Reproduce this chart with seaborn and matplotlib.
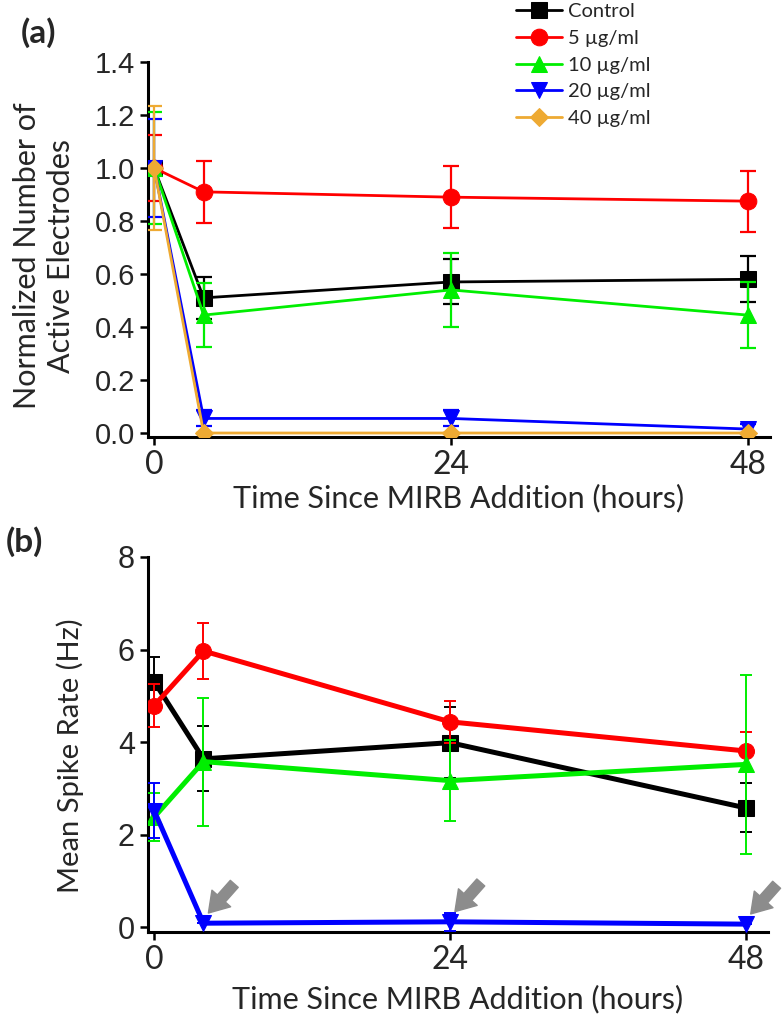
import matplotlib.pyplot as plt
import seaborn as sns

hours = [0, 4, 24, 48]
groups = ["Control", "5 µg/ml", "10 µg/ml", "20 µg/ml", "40 µg/ml"]
colors = ["#000000", "#ff0000", "#00ee00", "#0000ff", "#eeaa33"]
markers = ["s", "o", "^", "v", "D"]

# (a) normalized number of active electrodes
active = [
    [1.0, 0.51, 0.57, 0.58],
    [1.0, 0.91, 0.89, 0.875],
    [1.0, 0.445, 0.54, 0.445],
    [1.0, 0.055, 0.055, 0.015],
    [1.0, 0.0, 0.0, 0.0],
]
active_err = [
    [0.0, 0.08, 0.085, 0.087],
    [0.123, 0.117, 0.118, 0.115],
    [0.21, 0.122, 0.139, 0.123],
    [0.185, 0.03, 0.03, 0.02],
    [0.235, 0.0, 0.0, 0.0],
]

# (b) mean spike rate, 40 ug/ml had no active electrodes
rate = [
    [5.31, 3.64, 3.99, 2.58],
    [4.79, 5.97, 4.44, 3.81],
    [2.38, 3.58, 3.17, 3.52],
    [2.52, 0.09, 0.12, 0.07],
]
rate_err = [
    [0.52, 0.70, 0.77, 0.53],
    [0.46, 0.60, 0.46, 0.42],
    [0.52, 1.38, 0.88, 1.93],
    [0.60, 0.0, 0.2, 0.0],
]
arrow_hours = [4, 24, 48]

sns.set_style("ticks")
plt.rcParams["font.family"] = ["Lato", "DejaVu Sans"]

fig = plt.figure(figsize=(7.83, 10.18), dpi=100)
ax_a = fig.add_axes([148 / 783, 1 - 437 / 1018, 622 / 783, 375 / 1018])
ax_b = fig.add_axes([148 / 783, 1 - 932 / 1018, 620 / 783, 375 / 1018])


def style_axes(ax):
    for s in ["top", "right"]:
        ax.spines[s].set_visible(False)
    for s in ["left", "bottom"]:
        ax.spines[s].set_linewidth(2.2)
        ax.spines[s].set_color("black")
    ax.tick_params(direction="out", length=6, width=1.8, color="black")
    ax.set_xlim(-0.5, 49.8)
    ax.set_xticks([0, 24, 48], labels=["0", "24", "48"], fontsize=23)


for i in range(5):
    c = colors[i]
    ax_a.errorbar(hours, active[i], yerr=active_err[i], fmt="none", ecolor=c,
                  elinewidth=1.6, capsize=6, capthick=1.6, zorder=2 + i)
    sns.lineplot(x=hours, y=active[i], ax=ax_a, color=c, marker=markers[i],
                 markersize=12 if markers[i] != "D" else 9.5,
                 markeredgecolor=c, linewidth=2, errorbar=None,
                 label=groups[i], zorder=2.5 + i)
handles, labels = ax_a.get_legend_handles_labels()
ax_a.get_legend().remove()

for i in range(4):
    c = colors[i]
    ax_b.errorbar(hours, rate[i], yerr=rate_err[i], fmt="none", ecolor=c,
                  elinewidth=1.4, capsize=4.5, capthick=1.4, zorder=2 + i)
    sns.lineplot(x=hours, y=rate[i], ax=ax_b, color=c, marker=markers[i],
                 markersize=11.5, markeredgecolor=c, linewidth=3.6,
                 errorbar=None, zorder=2.5 + i)

for h, v in zip(arrow_hours, rate[3][1:]):
    ax_b.annotate("", xy=(h + 0.4, v + 0.22), xytext=(h + 2.5, v + 0.85),
                  arrowprops=dict(arrowstyle="simple,head_length=0.7,head_width=0.9,tail_width=0.38",
                                  color="#8c8c8c", mutation_scale=20, shrinkA=0, shrinkB=0),
                  zorder=10)

style_axes(ax_a)
style_axes(ax_b)

ax_a.set_ylim(-0.015, 1.4)
yt = [0.0, 0.2, 0.4, 0.6, 0.8, 1.0, 1.2, 1.4]
ax_a.set_yticks(yt, labels=[f"{v:.1f}" for v in yt], fontsize=21,
                fontfamily="Liberation Sans")
ax_b.set_ylim(-0.1, 8)
ax_b.set_yticks([0, 2, 4, 6, 8], labels=["0", "2", "4", "6", "8"], fontsize=22,
                fontfamily="Liberation Sans")

ax_a.set_ylabel("Normalized Number of\nActive Electrodes", fontsize=22,
                ha="center", va="center", linespacing=1.25)
ax_a.yaxis.set_label_coords(-0.167, 0.483)
ax_b.set_ylabel("Mean Spike Rate (Hz)", fontsize=21, ha="center", va="center")
ax_b.yaxis.set_label_coords(-0.125, 0.469)

for ax, yc in [(ax_a, -0.162), (ax_b, -0.178)]:
    ax.set_xlabel("Time Since MIRB Addition (hours)", fontsize=22, va="center")
    ax.xaxis.set_label_coords(0.5, yc)

fig.text(38 / 783, 1 - 33 / 1018, "(a)", fontsize=24, fontweight="bold",
         ha="center", va="center")
fig.text(24 / 783, 1 - 542 / 1018, "(b)", fontsize=24, fontweight="bold",
         ha="center", va="center")

fig.legend(handles, labels, loc="upper left", bbox_to_anchor=(516 / 783, 1 - 3 / 1018),
           frameon=False, fontsize=14.5, handlelength=2.3, handletextpad=0.3,
           labelspacing=0.48, borderpad=0, borderaxespad=0, markerscale=1.0)

fig.savefig("out.png", dpi=100)
